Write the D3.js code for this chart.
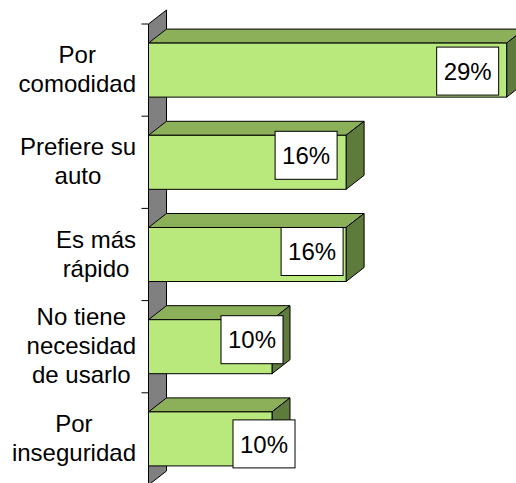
<!doctype html>
<html>
  <head>
    <meta charset='utf-8'>
    <script src="https://d3js.org/d3.v7.min.js"></script>
    <style>
      body { margin: 0; background: #fff; }
      text { font-family: "Liberation Sans", Arial, sans-serif; fill: #000; }
    </style>
  </head>

  <body>
  <svg width="516" height="483"></svg>

  <script>
    // chart data, top to bottom
    const categories = [
      ["Por", "comodidad"],
      ["Prefiere su", "auto"],
      ["Es más", "rápido"],
      ["No tiene", "necesidad", "de usarlo"],
      ["Por", "inseguridad"]
    ];
    const values = [29, 16, 16, 10, 10];
    const valueLabels = ["29%", "16%", "16%", "10%", "10%"];

    // excel placed some of the labels by hand
    const labelShiftX = [-3, -4, 2, 16, 28];
    const labelShiftY = [1, -7, -3, -7, 5];

    const depthX = 18, depthY = -14;
    const fontSize = 24, lineH = 29;

    const svg = d3.select("svg");
    const keys = categories.map((_, i) => i);

    const x = d3.scaleLinear().domain([0, 30]).range([148.5, 519]);
    const y = d3.scaleBand().domain(keys).range([24, 485])
      .paddingInner(0.414).paddingOuter(0.207);
    const step = y.step();
    const bw = y.bandwidth();

    // side wall
    const x0 = x(0);
    const wallTop = y.range()[0], wallBot = y.range()[1];
    svg.append("path")
      .attr("d", `M${x0},${wallTop}L${x0 + depthX},${wallTop + depthY}L${x0 + depthX},${wallBot + depthY}L${x0},${wallBot}Z`)
      .attr("fill", "#808080")
      .attr("stroke", "#000")
      .attr("stroke-width", 1);

    // tick marks on the category axis
    svg.selectAll(".tick")
      .data(d3.range(keys.length + 1))
      .enter()
        .append("line")
          .attr("class", "tick")
          .attr("x1", x0 - 7)
          .attr("x2", x0)
          .attr("y1", (d) => wallTop + d * step)
          .attr("y2", (d) => wallTop + d * step)
          .attr("stroke", "#000");

    const bars = svg.selectAll(".bar")
      .data(values)
      .enter()
        .append("g")
          .attr("class", "bar");

    // top face
    bars.append("path")
      .attr("d", (d, i) => {
        const t = y(i), xe = x(d);
        return `M${x0},${t}L${x0 + depthX},${t + depthY}L${xe + depthX},${t + depthY}L${xe},${t}Z`;
      })
      .attr("fill", "#8cb05a")
      .attr("stroke", "#000")
      .attr("stroke-linejoin", "round");

    // side face
    bars.append("path")
      .attr("d", (d, i) => {
        const t = y(i), xe = x(d);
        return `M${xe},${t}L${xe + depthX},${t + depthY}L${xe + depthX},${t + bw + depthY}L${xe},${t + bw}Z`;
      })
      .attr("fill", "#5f7b3c")
      .attr("stroke", "#000")
      .attr("stroke-linejoin", "round");

    // front face
    bars.append("rect")
      .attr("x", x0)
      .attr("y", (_, i) => y(i))
      .attr("width", (d) => x(d) - x0)
      .attr("height", bw)
      .attr("fill", "#b9e97d")
      .attr("stroke", "#000");

    // value labels
    const boxW = 62, boxH = 48;
    const lab = svg.selectAll(".vlabel")
      .data(values)
      .enter()
        .append("g")
          .attr("class", "vlabel")
          .attr("transform", (d, i) =>
            `translate(${x(d) - 36 + labelShiftX[i]},${y(i) + bw / 2 + labelShiftY[i]})`);
    lab.append("rect")
      .attr("x", -boxW / 2)
      .attr("y", -boxH / 2)
      .attr("width", boxW)
      .attr("height", boxH)
      .attr("fill", "#fff")
      .attr("stroke", "#000");
    lab.append("text")
      .attr("text-anchor", "middle")
      .attr("y", fontSize * 0.36)
      .style("font-size", fontSize + "px")
      .text((_, i) => valueLabels[i]);

    // category labels: lines centred in a block whose right edge is fixed
    const labelRight = 136;
    categories.forEach((lines, i) => {
      const g = svg.append("g").attr("class", "cat");
      const cy = y(i) + bw / 2 - 1;
      const first = cy - (lines.length - 1) * lineH / 2 + fontSize * 0.36;
      const texts = g.selectAll("text")
        .data(lines)
        .enter()
          .append("text")
            .attr("text-anchor", "middle")
            .attr("y", (_, j) => first + j * lineH)
            .style("font-size", fontSize + "px")
            .text((d) => d);
      let w = 0;
      texts.each(function () { w = Math.max(w, this.getComputedTextLength()); });
      texts.attr("x", labelRight - w / 2);
    });
  </script>
  </body>
</html>
